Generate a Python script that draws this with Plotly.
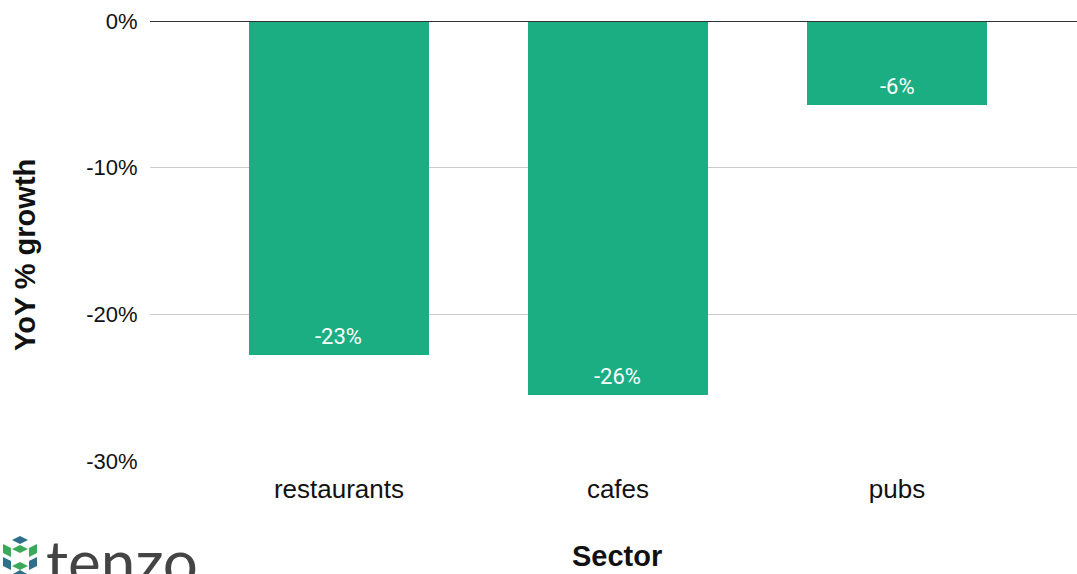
import plotly.graph_objects as go

categories = ["restaurants", "cafes", "pubs"]
values = [-22.8, -25.5, -5.7]
labels = ["-23%", "-26%", "-6%"]
tick_vals = [0, -10, -20, -30]
tick_text = ["0%", "-10%", "-20%", "-30%"]

W, H = 1077, 574
L, R, T, B = 150, 0, 21, 113
PW, PH = W - L - R, H - T - B

def px(x):
    return (x - L) / PW

def py(y):
    return (H - B - y) / PH

GREEN = "#1bae82"
FONT = "Liberation Sans, Arial, sans-serif"

fig = go.Figure(go.Bar(
    x=categories, y=values,
    marker=dict(color=GREEN, line=dict(width=0)),
    width=0.645,
    hoverinfo="skip",
))

shapes = [dict(type="line", xref="paper", yref="y", x0=0, x1=1, y0=0, y1=0,
               line=dict(color="#333333", width=2), layer="above")]

# logo (cubes)
def poly(pts, color):
    p = "M " + " L ".join(f"{px(a):.5f},{py(b):.5f}" for a, b in pts) + " Z"
    return dict(type="path", xref="paper", yref="paper", path=p,
                fillcolor=color, line=dict(width=0))

shapes += [
    poly([(12, 540), (20, 536), (28, 540), (20, 544)], "#2f6f8a"),
    poly([(3, 544), (11, 548), (11, 557), (3, 553)], "#3aaa5a"),
    poly([(37, 544), (29, 548), (29, 557), (37, 553)], "#3aaa5a"),
    poly([(12, 549), (20, 553), (28, 549), (20, 545)], "#3aaa5a"),
    poly([(3, 557), (11, 561), (11, 570), (3, 566)], "#2f6f8a"),
    poly([(37, 557), (29, 561), (29, 570), (37, 566)], "#2f6f8a"),
    poly([(12, 566), (20, 570), (28, 566), (20, 562)], "#3aaa5a"),
    poly([(13, 574), (20, 570), (27, 574)], "#2f6f8a"),
]

annotations = [
    dict(text="<b>Sector</b>", xref="paper", yref="paper", x=px(617), y=py(556),
         xanchor="center", yanchor="middle", showarrow=False,
         font=dict(size=29, color="#111111", family=FONT)),
    dict(text="<b>YoY % growth</b>", xref="paper", yref="paper", x=px(25), y=py(255),
         xanchor="center", yanchor="middle", textangle=-90, showarrow=False,
         font=dict(size=29, color="#111111", family=FONT)),
    dict(text="tenzo", xref="paper", yref="paper", x=px(44), y=py(522),
         xanchor="left", yanchor="top", showarrow=False,
         font=dict(size=62, color="#444444", family="Lato, sans-serif")),
]

for c, v, t in zip(categories, values, labels):
    annotations.append(dict(
        text=t, x=c, y=v, xref="x", yref="y", xanchor="center", yanchor="bottom",
        yshift=4, showarrow=False,
        font=dict(size=22, color="white", family="Roboto, sans-serif")))

fig.update_layout(
    width=W, height=H,
    margin=dict(l=L, r=R, t=T, b=B),
    plot_bgcolor="white", paper_bgcolor="white",
    showlegend=False, bargap=0,
    font=dict(family=FONT, color="#222222"),
    xaxis=dict(range=[-0.677, 2.645], showgrid=False, zeroline=False,
               showline=False, ticks="outside", ticklen=5, tickcolor="white",
               tickfont=dict(size=26, color="#111111", family=FONT), fixedrange=True),
    yaxis=dict(range=[-30, 0], tickvals=tick_vals, ticktext=tick_text,
               showgrid=True, gridcolor="#cccccc", gridwidth=1, zeroline=False,
               showline=False, ticks="outside", ticklen=7, tickcolor="white",
               tickfont=dict(size=22, color="#111111", family=FONT), fixedrange=True),
    shapes=shapes, annotations=annotations,
)

fig.write_html("out.html")
